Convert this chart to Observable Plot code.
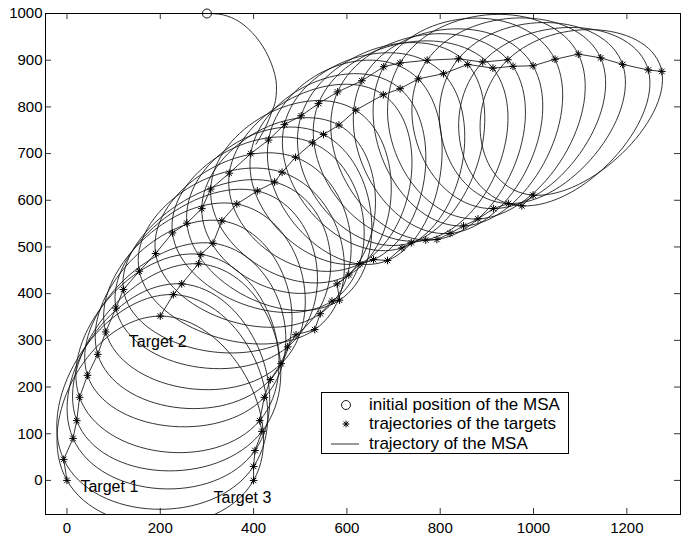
<!DOCTYPE html>
<html>
<head>
<meta charset="utf-8">
<script src="https://cdn.jsdelivr.net/npm/d3@7"></script>
<script src="https://cdn.jsdelivr.net/npm/@observablehq/plot@0.6"></script>
<style>
  body { margin: 0; background: #fff; font-family: "Liberation Sans", Arial, sans-serif; }
  #wrap { position: relative; width: 690px; height: 536px; }
  #legend { position: absolute; left: 321px; top: 392px; width: 246px; height: 60px;
            border: 1px solid #000; background: #fff; font-size: 17px; color: #000; }
  .row { position: absolute; left: 0; height: 20px; display: flex; align-items: center; white-space: nowrap; }
  .row svg { width: 47px; height: 20px; flex: none; }
</style>
</head>
<body>
<div id="wrap"></div>
<script>
// ---------- data ----------
const xTicks = [0, 200, 400, 600, 800, 1000, 1200];
const yTicks = [0, 100, 200, 300, 400, 500, 600, 700, 800, 900, 1000];

// Target 1 trajectory
const t1x = [0, -7, 13, 21, 27, 44, 66, 83, 105, 121, 155, 190, 226, 257, 289, 308, 348, 394, 432, 466, 502, 539, 580, 632, 679, 714, 772, 839, 891, 945];
const t1y = [0, 45, 90, 128, 178, 225, 270, 318, 369, 409, 448, 486, 530, 551, 582, 624, 658, 700, 729, 762, 781, 807, 832, 856, 886, 894, 900, 903, 896, 901];
// Target 2 trajectory
const t2x = [200, 228, 246, 282, 287, 313, 332, 364, 408, 445, 461, 490, 526, 550, 583, 619, 678, 714, 753, 807, 859, 913, 956, 999, 1046, 1096, 1144, 1191, 1246, 1275];
const t2y = [352, 398, 421, 464, 484, 508, 556, 592, 620, 639, 660, 692, 723, 741, 761, 793, 826, 839, 860, 871, 891, 883, 887, 888, 902, 913, 905, 891, 879, 876];
// Target 3 trajectory
const t3x = [400, 400, 403, 418, 413, 423, 436, 459, 473, 491, 531, 543, 568, 584, 579, 604, 628, 657, 687, 718, 738, 769, 793, 821, 850, 881, 914, 946, 975, 999];
const t3y = [0, 30, 64, 105, 128, 178, 216, 250, 286, 312, 323, 357, 384, 386, 421, 440, 464, 473, 471, 498, 509, 515, 516, 529, 545, 560, 582, 593, 588, 611];

// MSA start: initial position and first turning arc
const startX = [300, 335, 370, 405, 432, 448, 447, 439, 425, 405];
const startY = [1000, 997, 982, 950, 907, 857, 814, 789, 755, 720];

const legendItems = [
  {label: "initial position of the MSA", kind: "circle"},
  {label: "trajectories of the targets", kind: "star"},
  {label: "trajectory of the MSA", kind: "line"}
];

// ---------- derived tables ----------
const targets = [];
[[t1x, t1y], [t2x, t2y], [t3x, t3y]].forEach(([xs, ys], id) =>
  xs.forEach((x, i) => targets.push({id, i, x, y: ys[i]})));

const start = startX.map((x, i) => ({x, y: startY[i]}));

// each MSA loop passes T1 -> T2 -> T3 of the same step and closes back on T1
const loops = [];
for (let k = 0; k < t1x.length; k++) {
  loops.push({k, x: t1x[k], y: t1y[k]}, {k, x: t2x[k], y: t2y[k]}, {k, x: t3x[k], y: t3y[k]});
}

const W = 690, H = 536, mt = 13, mr = 10, mb = 22, ml = 45;
const innerW = W - ml - mr, innerH = H - mt - mb, tickLen = 6;
const ink = "#111";

const chart = Plot.plot({
  width: W, height: H,
  marginTop: mt, marginRight: mr, marginBottom: mb, marginLeft: ml,
  style: {fontFamily: '"Liberation Sans", Arial, sans-serif', fontSize: "15px", background: "#fff", color: "#000"},
  x: {domain: [-46, 1315]},
  y: {domain: [-73, 1000]},
  marks: [
    Plot.line(loops, {x: "x", y: "y", z: "k", curve: "cardinal-closed", tension: -1.2, stroke: ink, strokeWidth: 0.85, clip: true}),
    Plot.line(start, {x: "x", y: "y", curve: "catmull-rom", stroke: ink, strokeWidth: 0.85, clip: true}),
    Plot.line(targets, {x: "x", y: "y", z: "id", stroke: ink, strokeWidth: 0.85}),
    Plot.dot(targets, {x: "x", y: "y", symbol: "plus", r: 2.6, stroke: "#000", strokeWidth: 1}),
    Plot.dot(targets, {x: "x", y: "y", symbol: "times", r: 2.6, stroke: "#000", strokeWidth: 1}),
    Plot.dot(start.slice(0, 1), {x: "x", y: "y", r: 4.5, stroke: "#000", fill: "#fff", strokeWidth: 0.9}),
    Plot.text(targets.filter(d => d.id === 0 && d.i === 0), {x: "x", y: "y", text: () => "Target 1", textAnchor: "start", dx: 13.5, dy: 6, fontSize: 16, fill: "#000"}),
    Plot.text(targets.filter(d => d.id === 1 && d.i === 0), {x: "x", y: "y", text: () => "Target 2", textAnchor: "start", dx: -31.5, dy: 26, fontSize: 16, fill: "#000"}),
    Plot.text(targets.filter(d => d.id === 2 && d.i === 0), {x: "x", y: "y", text: () => "Target 3", textAnchor: "start", dx: -40, dy: 17, fontSize: 16, fill: "#000"}),
    // inward ticks on all four sides
    Plot.ruleX(xTicks, {x: d => d, insetTop: innerH - tickLen, stroke: "#000", strokeWidth: 0.8}),
    Plot.ruleX(xTicks, {x: d => d, insetBottom: innerH - tickLen, stroke: "#000", strokeWidth: 0.8}),
    Plot.ruleY(yTicks, {y: d => d, insetRight: innerW - tickLen, stroke: "#000", strokeWidth: 0.8}),
    Plot.ruleY(yTicks, {y: d => d, insetLeft: innerW - tickLen, stroke: "#000", strokeWidth: 0.8}),
    Plot.frame({stroke: "#000", strokeWidth: 1}),
    Plot.axisX(xTicks, {tickSize: 0, tickPadding: 7.5, fontSize: 15, tickFormat: d => String(d), label: null}),
    Plot.axisY(yTicks, {tickSize: 0, tickPadding: 3, fontSize: 15, tickFormat: d => String(d), label: null})
  ]
});

const wrap = document.getElementById("wrap");
wrap.appendChild(chart);

// legend box (inside the axes, as in the original)
const legend = document.createElement("div");
legend.id = "legend";
const rowTops = [1.5, 21.3, 41];
legendItems.forEach((item, i) => {
  const row = document.createElement("div");
  row.className = "row";
  row.style.top = rowTops[i] + "px";
  let icon = "";
  if (item.kind === "circle") icon = '<circle cx="24" cy="10" r="4.5" fill="#fff" stroke="#000" stroke-width="0.9"/>';
  if (item.kind === "star") icon = '<path d="M20.6,10H27.4M24,6.6V13.4M21.6,7.6L26.4,12.4M26.4,7.6L21.6,12.4" stroke="#000" stroke-width="1"/>';
  if (item.kind === "line") icon = '<line x1="9" y1="10" x2="37" y2="10" stroke="#000" stroke-width="0.8"/>';
  row.innerHTML = '<svg viewBox="0 0 47 20">' + icon + '</svg><span>' + item.label + '</span>';
  legend.appendChild(row);
});
wrap.appendChild(legend);
</script>
</body>
</html>
